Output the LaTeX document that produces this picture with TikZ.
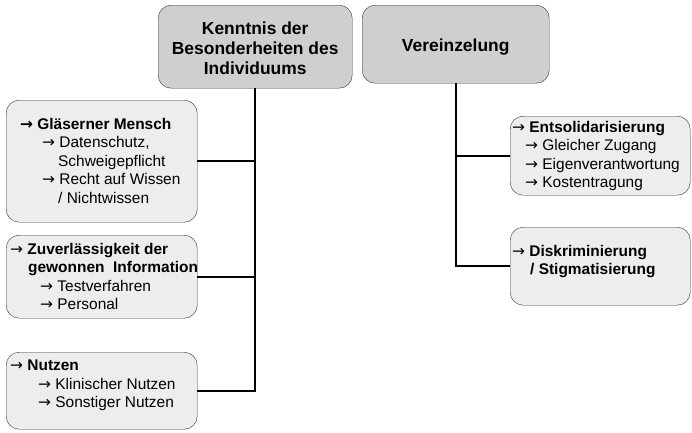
\documentclass[tikz,border=0pt]{standalone}
\usepackage{fontspec}
\setmainfont{Liberation Sans}
\newfontfamily\arrowfont{DejaVu Sans}

\newcommand{\ra}{{\arrowfont →}}
\newcommand{\sub}{\hspace*{22bp}}
\newcommand{\subb}{\hspace*{38bp}}

\begin{document}
\begin{tikzpicture}[x=1bp,y=-1bp]
    \useasboundingbox (0,0) rectangle (692,432);
    % boxes
    \begin{scope}[every node/.style={draw=black!80,thin,rounded corners=13bp,anchor=north west,inner sep=0pt}]
        \node[fill=black!19,minimum width=194bp,minimum height=83bp] (kenntnis) at (158,5) {};
        \node[fill=black!19,minimum width=187bp,minimum height=78bp] (vereinzelung) at (362,5) {};
        \node[fill=black!7,minimum width=191bp,minimum height=122bp] (glaeserner) at (6,100) {};
        \node[fill=black!7,minimum width=191bp,minimum height=83bp] (zuverl) at (6,235) {};
        \node[fill=black!7,minimum width=191bp,minimum height=77bp] (nutzen) at (6,352) {};
        \node[fill=black!7,minimum width=180bp,minimum height=79bp] (entsol) at (510,116) {};
        \node[fill=black!7,minimum width=180bp,minimum height=78bp] (diskrim) at (510,227) {};
    \end{scope}
    % texts
    \begin{scope}[every node/.style={align=center,font=\bfseries\fontsize{17.5}{19.8}\selectfont}]
        \node (kenntnistxt) at ([yshift=-1.5]kenntnis.center) {Kenntnis der\\Besonderheiten des\\Individuums};
        \node (vereinzelungtxt) at ([yshift=-3]vereinzelung.center) {Vereinzelung};
    \end{scope}
    \begin{scope}[every node/.style={align=left,anchor=north west,inner sep=0pt,font=\fontsize{15.5}{18.6}\selectfont}]
        \node (glaesernertxt) at (20,118) {\textbf{\ra\ Gläserner Mensch}\\
            \sub\ra\ Datenschutz,\\
            \subb Schweigepflicht\\
            \sub\ra\ Recht auf Wissen\\
            \subb / Nichtwissen};
        \node (zuverltxt) at (10,243) {\ra\ \textbf{Zuverlässigkeit der}\\
            \hspace*{18bp}\textbf{gewonnen\ \ Information}\\
            \hspace*{30bp}\ra\ Testverfahren\\
            \hspace*{30bp}\ra\ Personal};
        \node (nutzentxt) at (10,360) {\ra\ \textbf{Nutzen}\\
            \hspace*{28bp}\ra\ Klinischer Nutzen\\
            \hspace*{28bp}\ra\ Sonstiger Nutzen};
        \node (entsoltxt) at (512,121) {\ra\ \textbf{Entsolidarisierung}\\
            \hspace*{13bp}\ra\ Gleicher Zugang\\
            \hspace*{13bp}\ra\ Eigenverantwortung\\
            \hspace*{13bp}\ra\ Kostentragung};
        \node (diskrimtxt) at (512,245) {\ra\ \textbf{Diskriminierung}\\
            \hspace*{18bp}\textbf{/ Stigmatisierung}};
    \end{scope}
    % connectors
    \begin{scope}[every edge/.style={draw=black,line width=2.4bp}]
        \path [-] (kenntnis.south) edge[to path={|- (\tikztotarget)}] (nutzen.east);
        \path [-] (glaeserner.east) edge (glaeserner.east -| kenntnis.south);
        \path [-] (zuverl.east) edge (zuverl.east -| kenntnis.south);
        \path [-] (vereinzelung.south) edge[to path={|- (\tikztotarget)}] (diskrim.west);
        \path [-] (entsol.west) edge (entsol.west -| vereinzelung.south);
    \end{scope}
\end{tikzpicture}
\end{document}
